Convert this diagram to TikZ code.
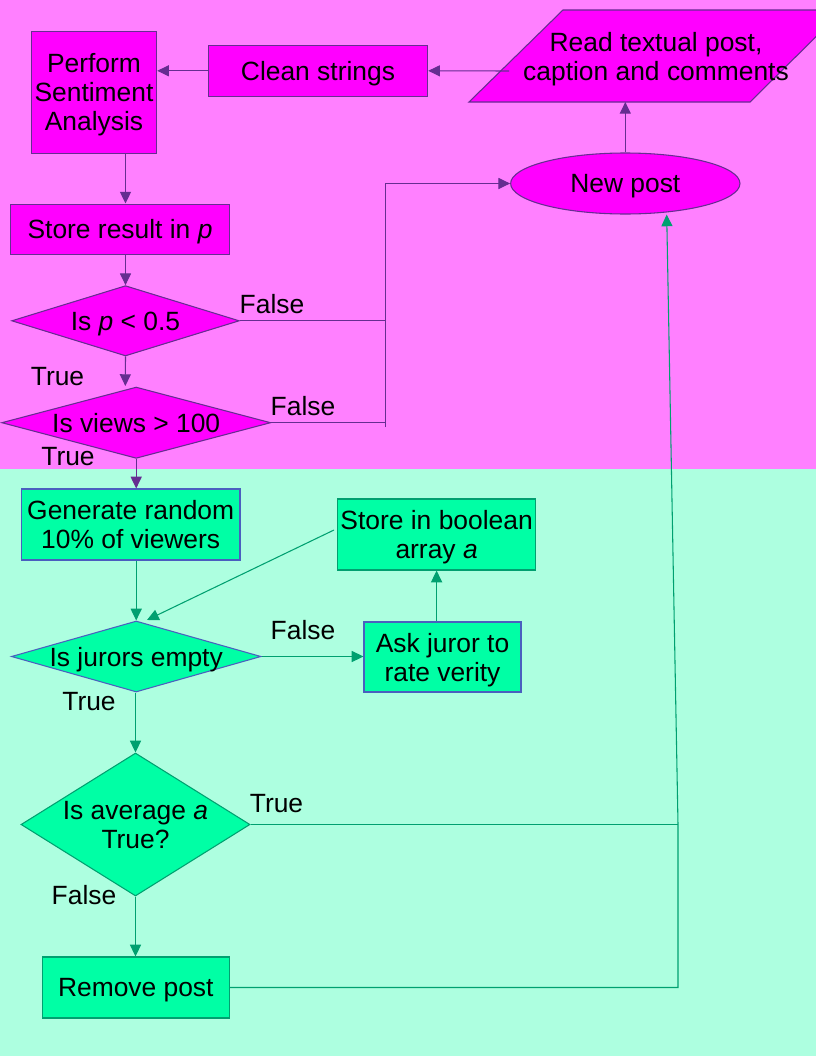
\documentclass[tikz,border=0pt]{standalone}
\usepackage{fontspec}
\setmainfont{Liberation Sans}
\usetikzlibrary{arrows.meta,shapes.geometric,calc}
\definecolor{pinkbg}{HTML}{FF80FF}
\definecolor{magfill}{HTML}{FF00FF}
\definecolor{purp}{HTML}{662D91}
\definecolor{tealbg}{HTML}{ADFFE0}
\definecolor{tealfill}{HTML}{00FFA5}
\definecolor{grn}{HTML}{00A070}
\definecolor{blu}{HTML}{4A5FBF}
\tikzset{
  txt/.style={font=\fontsize{19.8pt}{21.75pt}\selectfont, align=center, text=black, inner sep=0pt, text depth=0pt},
  pbox/.style={txt, rectangle, draw=purp, fill=magfill, line width=0.8pt},
  tbox/.style={txt, rectangle, draw=blu, fill=tealfill, line width=0.8pt},
  gbox/.style={txt, rectangle, draw=grn, fill=tealfill, line width=0.8pt},
  pdia/.style={diamond, draw=purp, fill=magfill, line width=0.8pt, inner sep=0pt, label={[txt]center:#1}},
  tdia/.style={diamond, draw=blu, fill=tealfill, line width=0.8pt, inner sep=0pt, label={[txt]center:#1}},
  gdia/.style={diamond, draw=grn, fill=tealfill, line width=0.8pt, inner sep=0pt, label={[txt]center:#1}},
  parr/.style={draw=purp, line width=0.8pt, -{Triangle[length=8.8pt,width=8.3pt]}},
  pline/.style={draw=purp, line width=0.8pt},
  garr/.style={draw=grn, line width=0.8pt, -{Triangle[length=8.8pt,width=8.3pt]}},
  gline/.style={draw=grn, line width=0.8pt},
  lab/.style={txt}
}
\begin{document}
\begin{tikzpicture}[x=0.75pt,y=-0.75pt]
\useasboundingbox (0,0) rectangle (816,1056);
\clip (0,0) rectangle (816,1056);
\fill[pinkbg] (0,0) rectangle (816,469);
\fill[tealbg] (0,469) rectangle (816,1056);

% top section
\filldraw[fill=magfill, draw=purp, line width=0.8pt] (563,10) -- (843,10) -- (750,102) -- (469,102) -- cycle;
\node[txt] (read) at (656,56) {Read textual post,\\caption and comments};
\coordinate (rl) at (509,71);
\node[pbox, minimum width=125.4*0.75pt, minimum height=122*0.75pt] (perform) at (94,92.3) {Perform\\Sentiment\\Analysis};
\node[pbox, minimum width=219.4*0.75pt, minimum height=51*0.75pt] (clean) at (318,70.8) {Clean strings};
\node[ellipse, draw=purp, fill=magfill, line width=0.8pt, txt, minimum width=229.3*0.75pt, minimum height=61*0.75pt] (newpost) at (625.3,183.5) {New post};
\node[pbox, minimum width=219.4*0.75pt, minimum height=50.3*0.75pt] (store) at (120,229.2) {Store result in \textit{p}};
\node[pdia={Is \textit{p} < 0.5}, minimum width=227.6*0.75pt, minimum height=70.3*0.75pt] (d1) at (125.5,320.8) {};
\node[pdia={Is views > 100}, minimum width=269*0.75pt, minimum height=71.3*0.75pt] (d2) at (136.2,422.7) {};

% bottom section
\node[tbox, minimum width=218.6*0.75pt, minimum height=71*0.75pt] (gen) at (130.7,524.5) {Generate random\\10\% of viewers};
\node[gbox, minimum width=198.2*0.75pt, minimum height=71*0.75pt] (sbool) at (436.6,534.5) {Store in boolean\\array \textit{a}};
\node[tdia={Is jurors empty}, minimum width=249.6*0.75pt, minimum height=71*0.75pt] (d3) at (136.2,656.5) {};
\node[tbox, minimum width=157*0.75pt, minimum height=70*0.75pt] (ask) at (442.5,657) {Ask juror to\\rate verity};
\node[gdia={Is average \textit{a}\\True?}, minimum width=229*0.75pt, minimum height=143*0.75pt] (d4) at (135.5,824.5) {};
\node[gbox, minimum width=187*0.75pt, minimum height=61*0.75pt] (remove) at (135.8,987.5) {Remove post};

% labels
\node[lab] (l1) at (272,304) {False};
\node[lab] (l2) at (57.5,376) {True};
\node[lab] (l3) at (303,406) {False};
\node[lab] (l4) at (68,456) {True};
\node[lab] (l5) at (303,630) {False};
\node[lab] (l6) at (89,701) {True};
\node[lab] (l7) at (276.5,803) {True};
\node[lab] (l8) at (84,895) {False};

% helper coordinates
\coordinate (j) at (385.5,427);
\coordinate (d3in) at (147,620);
\coordinate (sbl) at (334,530);
\coordinate (c1) at (678,824.5);
\coordinate (c2) at (678,987.5);
\coordinate (np) at (666.7,214.5);
\coordinate (d2in) at (125.3,386);

% purple connectors
\draw[parr] (rl) -- (clean.east);
\draw[parr] (clean.west) -- (clean.west -| perform.east);
\draw[parr] (perform.south -| d1.north) -- (store.north -| d1.north);
\draw[parr] (store.south -| d1.north) -- (d1.north);
\draw[parr] (d1.south) -- (d2in);
\draw[pline] (d1.east) -- (d1.east -| j);
\draw[pline] (d2.east) -- (d2.east -| j);
\draw[parr] (j) -- (j |- newpost.west) -- (newpost.west);
\draw[parr] (newpost.north) -- (newpost.north |- 0,102);
\draw[parr] (d2.south) -- (d2.south |- gen.north);

% green connectors
\draw[garr] (gen.south -| d3.north) -- (d3.north);
\draw[garr] (sbl) -- (d3in);
\draw[garr] (d3.east) -- (d3.east -| ask.west);
\draw[garr] (ask.north -| sbool.south) -- (sbool.south);
\draw[garr] (d4.north |- d3.south) -- (d4.north);
\draw[garr] (d4.south) -- (d4.south |- remove.north);
\draw[gline] (d4.east) -- (c1);
\draw[garr] (remove.east) -- (c2) -- (c1) -- (np);
\end{tikzpicture}
\end{document}
